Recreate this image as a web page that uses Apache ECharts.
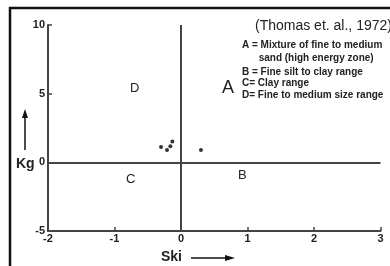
<!DOCTYPE html>
<html><head><meta charset="utf-8">
<script src="https://cdn.jsdelivr.net/npm/echarts@6/dist/echarts.min.js"></script>
<style>html,body{margin:0;padding:0;background:#fff}#c{width:390px;height:266px}</style>
</head><body><div id="c"></div>
<script>
const xTicks = [-2, -1, 0, 1, 2, 3];
const yTicks = [-5, 0, 5, 10];
const skiValues = [-0.30, -0.21, -0.16, -0.13, 0.30];
const kgValues = [1.12, 0.90, 1.17, 1.51, 0.90];
const legendLines = [
  'A = Mixture of fine to medium',
  '      sand (high energy zone)',
  'B = Fine silt to clay range',
  'C= Clay range',
  'D= Fine to medium size range'
];

const chart = echarts.init(document.getElementById('c'));
const F = 'Liberation Sans, Arial, sans-serif';
const lineCol = '#444';
chart.setOption({
  animation: false,
  grid: {left: 48, right: 9.5, top: 25, bottom: 35},
  xAxis: {
    type: 'value', min: xTicks[0], max: xTicks[xTicks.length-1], interval: 1,
    splitLine: {show: false},
    axisLine: {onZero: false, lineStyle: {color: lineCol, width: 2}},
    axisTick: {inside: true, length: 4, lineStyle: {color: lineCol, width: 1.5}},
    axisLabel: {color: '#222', fontFamily: F, fontWeight: 'bold', fontSize: 11, margin: 2}
  },
  yAxis: {
    type: 'value', min: yTicks[0], max: yTicks[yTicks.length-1], interval: 5,
    splitLine: {show: false},
    axisLine: {show: true, onZero: false, lineStyle: {color: lineCol, width: 2}},
    axisTick: {show: true, inside: true, length: 4, lineStyle: {color: lineCol, width: 1.5}},
    axisLabel: {color: '#222', fontFamily: F, fontWeight: 'bold', fontSize: 11, margin: 3}
  },
  series: [{
    type: 'scatter',
    symbolSize: 4,
    itemStyle: {color: '#000'},
    data: skiValues.map((v, i) => [v, kgValues[i]]),
    markLine: {
      silent: true, symbol: 'none', label: {show: false},
      lineStyle: {color: lineCol, width: 2, type: 'solid'},
      data: [{xAxis: 0}, {yAxis: 0}]
    }
  }],
  graphic: [
    {type: 'rect', shape: {x: 10, y: 8, width: 400, height: 290}, style: {fill: 'none', stroke: '#111', lineWidth: 2.5}},
    {type: 'text', left: 255, top: 19, style: {text: '(Thomas et. al., 1972)', font: '14px ' + F, fill: '#222'}},
    {type: 'text', left: 242, top: 39, style: {text: legendLines.slice(0,2).join('\n'), font: 'bold 10px ' + F, lineHeight: 13, fill: '#222'}},
    {type: 'text', left: 242, top: 66, style: {text: legendLines.slice(2).join('\n'), font: 'bold 10px ' + F, lineHeight: 11.5, fill: '#222'}},
    {type: 'text', left: 222, top: 79, style: {text: 'A', font: '18px ' + F, fill: '#222'}},
    {type: 'text', left: 130, top: 82, style: {text: 'D', font: '13px ' + F, fill: '#222'}},
    {type: 'text', left: 126, top: 173, style: {text: 'C', font: '13px ' + F, fill: '#222'}},
    {type: 'text', left: 238, top: 169, style: {text: 'B', font: '13px ' + F, fill: '#222'}},
    {type: 'text', left: 16, top: 157, style: {text: 'Kg', font: 'bold 14px ' + F, fill: '#222'}},
    {type: 'text', left: 161, top: 250, style: {text: 'Ski', font: 'bold 14px ' + F, fill: '#222'}},
    {type: 'line', shape: {x1: 25, y1: 150, x2: 25, y2: 114}, style: {stroke: '#111', lineWidth: 1.5}},
    {type: 'polygon', shape: {points: [[25, 109], [22, 118], [28, 118]]}, style: {fill: '#111'}},
    {type: 'line', shape: {x1: 191, y1: 258, x2: 228, y2: 258}, style: {stroke: '#111', lineWidth: 1.5}},
    {type: 'polygon', shape: {points: [[235, 258], [225, 255], [225, 261]]}, style: {fill: '#111'}}
  ]
});
</script></body></html>
